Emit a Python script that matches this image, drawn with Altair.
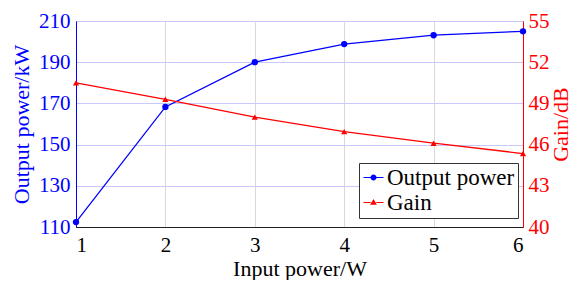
import altair as alt
import pandas as pd

# ---- data ----
input_power = [1, 2, 3, 4, 5, 6]
output_power = [112.4, 168.3, 190.0, 198.8, 203.1, 205.0]
gain = [50.5, 49.3, 48.0, 46.95, 46.1, 45.35]
series_names = ["Output power", "Gain"]
x_ticks = [1, 2, 3, 4, 5, 6]
left_ticks = [110, 130, 150, 170, 190, 210]
right_ticks = [40, 43, 46, 49, 52, 55]

BLUE = "#0000ff"
RED = "#ff0000"
FONT = "Liberation Serif"
LABEL_FS = 21
TITLE_FS = 22

df_p = pd.DataFrame({"x": input_power, "y": output_power, "series": series_names[0]})
df_g = pd.DataFrame({"x": input_power, "y": gain, "series": series_names[1]})
df_leg = pd.DataFrame({"series": series_names})

stub = "M-1,-0.06H-0.28V0.06H-1ZM0.28,-0.06H1V0.06H0.28Z"
circ = stub + "M0.3,0A0.3,0.3,0,1,1,-0.3,0A0.3,0.3,0,1,1,0.3,0Z"
tri = stub + "M0,-0.36L0.34,0.22L-0.34,0.22Z"

legend = alt.Legend(
    title=None,
    orient="none",
    legendX=283,
    legendY=142,
    direction="vertical",
    strokeColor="#333333",
    fillColor="white",
    padding=3,
    labelFont=FONT,
    labelFontSize=23,
    labelColor="black",
    labelOffset=2,
    symbolSize=400,
    symbolOpacity=1,
    symbolStrokeWidth=0,
    rowPadding=1,
)

x_enc = alt.X(
    "x:Q",
    scale=alt.Scale(domain=[1, 6], nice=False, zero=False),
    axis=alt.Axis(
        values=x_ticks,
        format="d",
        title="Input power/W",
        titleFont=FONT,
        titleFontSize=TITLE_FS,
        titleFontWeight="normal",
        titleColor="black",
        titlePadding=3,
        labelFont=FONT,
        labelFontSize=LABEL_FS,
        labelColor="black",
        labelPadding=7,
        ticks=False,
        domainColor="#222222",
        grid=True,
        gridColor="#d8d8de",
        gridWidth=1,
    ),
)

y_left = alt.Y(
    "y:Q",
    scale=alt.Scale(domain=[110, 210], nice=False, zero=False),
    axis=alt.Axis(
        values=left_ticks,
        format="d",
        title="Output power/kW",
        titleFont=FONT,
        titleFontSize=TITLE_FS,
        titleFontWeight="normal",
        titleColor=BLUE,
        titlePadding=5,
        labelFont=FONT,
        labelFontSize=LABEL_FS,
        labelColor=BLUE,
        labelPadding=6,
        ticks=False,
        domainColor=BLUE,
        grid=True,
        gridColor="#c8c8fa",
        gridWidth=1,
    ),
)
y_right = alt.Y(
    "y:Q",
    scale=alt.Scale(domain=[40, 55], nice=False, zero=False),
    axis=alt.Axis(
        orient="right",
        values=right_ticks,
        format="d",
        title="Gain/dB",
        titleAngle=270,
        titleBaseline="top",
        titleFont=FONT,
        titleFontSize=TITLE_FS,
        titleFontWeight="normal",
        titleColor=RED,
        titlePadding=1,
        labelFont=FONT,
        labelFontSize=LABEL_FS,
        labelColor=RED,
        labelPadding=5,
        ticks=False,
        domainColor=RED,
        grid=False,
    ),
)

p_base = alt.Chart(df_p)
power = alt.layer(
    p_base.mark_line(color=BLUE, strokeWidth=1.3).encode(x=x_enc, y=y_left),
    p_base.mark_point(filled=True, size=40, shape="circle", opacity=1, color=BLUE).encode(x=x_enc, y=y_left),
)

g_base = alt.Chart(df_g)
gainl = alt.layer(
    g_base.mark_line(color=RED, strokeWidth=1.3).encode(x=x_enc, y=y_right),
    g_base.mark_point(filled=True, size=38, shape="triangle-up", opacity=1, color=RED).encode(x=x_enc, y=y_right),
)

legend_layer = alt.Chart(df_leg).mark_point(filled=True, opacity=0, size=1).encode(
    color=alt.Color("series:N", scale=alt.Scale(domain=series_names, range=[BLUE, RED]), legend=legend),
    shape=alt.Shape("series:N", scale=alt.Scale(domain=series_names, range=[circ, tri]), legend=legend),
)

chart = (
    alt.layer(power, gainl, legend_layer)
    .resolve_scale(y="independent")
    .properties(
        width=447,
        height=206,
        autosize="none",
        padding={"left": 68, "top": 13, "right": 52, "bottom": 53},
        background="white",
    )
    .configure_view(stroke="black", strokeWidth=1)
)

chart.save("out.html", embed_options={"renderer": "svg", "actions": False})
